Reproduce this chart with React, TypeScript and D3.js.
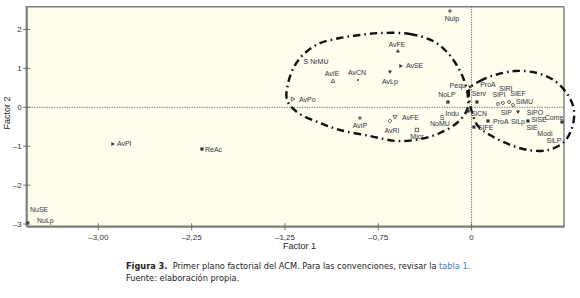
import React from "react";
import * as d3 from "d3";

// ---- Data (Factor 1, Factor 2 coordinates of ACM categories) ----
const categories = [
  "Nulp", "AvFE", "S NrMU", "AvSE", "AvIE", "AvCN", "AvLp", "AvPo", "Pequ", "NoLP",
  "Serv", "ProA", "SiRI", "SiPI", "SIEF", "SiMU", "Indu", "S NoMU", "SiCN", "SIFE",
  "ProA", "SIP", "SiPO", "SiLp", "SiSE", "SIE", "Come", "Modi", "SiLP", "AvFE",
  "AvRI", "Micr", "AvIP", "AvPI", "ReAc", "NuSE", "NuLp",
];
const factor1 = [
  -0.174, -0.592, -1.25, -0.568, -1.114, -0.913, -0.656, -1.436, -0.013, -0.19,
  0.043, 0.132, 0.252, 0.212, 0.301, 0.333, -0.029, -0.254, 0.059, 0.019,
  0.132, 0.373, 0.51, 0.453, 0.542, 0.486, 0.727, 0.59, 0.662, -0.616,
  -0.656, -0.439, -0.897, -2.883, -2.167, -3.566, -3.566,
];
const factor2 = [
  2.476, 1.447, 1.19, 1.062, 0.676, 0.702, 0.907, 0.213, 0.522, 0.136,
  0.136, 0.599, 0.11, 0.085, 0.136, 0.059, -0.095, -0.404, -0.147, -0.507,
  -0.352, -0.121, -0.121, -0.352, -0.301, -0.507, -0.378, -0.661, -0.866, -0.252,
  -0.352, -0.583, -0.275, -0.943, -1.072, -2.974, -2.974,
];
const markerKinds = [
  "plus", "triUp", "none", "triRight", "triUpOpen", "dot", "triDown", "triRightOpen", "triDown", "square",
  "square", "none", "circle", "circle", "circle", "circle", "square", "none", "none", "square",
  "square", "triDown", "none", "square", "none", "none", "square", "none", "none", "triDownOpen",
  "diamondOpen", "squareOpen", "plus", "triRight", "square", "none", "triDown",
];

// Clusters outlined by dash-dot curves (Factor 1, Factor 2)
const cluster1F1 = [-0.736, -0.495, -0.31, -0.206, -0.125, -0.061, -0.029, -0.037, -0.109, -0.254, -0.415, -0.6, -0.817, -1.058, -1.219, -1.404, -1.484, -1.476, -1.428, -1.356, -1.235, -1.058, -0.897];
const cluster1F2 = [1.91, 1.884, 1.704, 1.447, 1.113, 0.702, 0.265, -0.069, -0.378, -0.661, -0.815, -0.866, -0.738, -0.583, -0.403, -0.12, 0.188, 0.599, 1.036, 1.344, 1.627, 1.781, 1.859];
const cluster2F1 = [-0.013, 0.067, 0.188, 0.349, 0.526, 0.67, 0.775, 0.823, 0.807, 0.743, 0.614, 0.453, 0.293, 0.148, 0.051, 0.003, -0.021];
const cluster2F2 = [0.496, 0.676, 0.83, 0.933, 0.882, 0.676, 0.316, -0.069, -0.532, -0.892, -1.098, -1.098, -0.943, -0.712, -0.481, -0.121, 0.239];

// Axis ticks
const xTickValues = [-3, -2.25, -1.5, -0.75, 0];
const xTickLabels = ["\u20133,00", "\u20132,25", "\u20131,25", "\u20130,75", "0"];
const yTickValues = [2, 1, 0, -1, -2, -3];
const yTickLabels = ["2", "1", "0", "\u20131", "\u20132", "\u20133"];

// ---- Layout (label placement relative to marker, px) ----
const labelLayout: [string, number, number][] = [
  ["middle", 2, 8], ["middle", -1, -7], ["middle", 0, 0], ["start", 5, 0], ["middle", -1, -8],
  ["middle", -1, -7], ["middle", 0, 9], ["start", 6, 0], ["end", -4, -1], ["middle", -1, -8],
  ["middle", 2, -9], ["middle", 0, 0], ["middle", 3, -15], ["middle", 1, -9], ["middle", 9, -9],
  ["start", 3, -4], ["end", -9, 2], ["middle", 0, 0], ["middle", 0, 0], ["start", 4, 0],
  ["start", 5, 1], ["end", -6, 0], ["middle", 0, 0], ["end", -3, 1], ["middle", 0, 0],
  ["middle", 0, 0], ["middle", -8, -5], ["middle", 0, 0], ["middle", 0, 0], ["start", 7, 0],
  ["middle", 2, 10], ["middle", 0, 7], ["middle", 0, 7], ["start", 4, 0], ["start", 3, 0],
  ["start", 2, -14], ["start", 9, -3],
];

const W = 580;
const H = 298;
const plot = { left: 26.7, right: 564, top: 6.7, bottom: 226.7 };

const x = d3.scaleLinear().domain([-3.576, 0.743]).range([plot.left, plot.right]);
const y = d3.scaleLinear().domain([-3.069, 2.586]).range([plot.bottom, plot.top]);

const labelFont = "'Liberation Sans', Arial, sans-serif";
const captionFont = "'Liberation Sans Narrow', 'Arial Narrow', 'DejaVu Sans Condensed', 'Liberation Sans', sans-serif";
const ink = "#333";

function Marker({ kind, cx, cy }: { kind: string; cx: number; cy: number }) {
  const s = 2;
  switch (kind) {
    case "plus":
      return <path d={`M${cx - s},${cy}H${cx + s}M${cx},${cy - s}V${cy + s}`} stroke={ink} strokeWidth={0.9} />;
    case "triUp":
      return <path d={`M${cx},${cy - s}L${cx + s},${cy + s * 0.8}L${cx - s},${cy + s * 0.8}Z`} fill={ink} />;
    case "triUpOpen":
      return <path d={`M${cx},${cy - s}L${cx + s},${cy + s * 0.8}L${cx - s},${cy + s * 0.8}Z`} fill="none" stroke={ink} strokeWidth={0.7} />;
    case "triDown":
      return <path d={`M${cx - s},${cy - s * 0.8}L${cx + s},${cy - s * 0.8}L${cx},${cy + s}Z`} fill={ink} />;
    case "triDownOpen":
      return <path d={`M${cx - s},${cy - s * 0.8}L${cx + s},${cy - s * 0.8}L${cx},${cy + s}Z`} fill="none" stroke={ink} strokeWidth={0.7} />;
    case "triRight":
      return <path d={`M${cx - s * 0.8},${cy - s}L${cx + s},${cy}L${cx - s * 0.8},${cy + s}Z`} fill={ink} />;
    case "triRightOpen":
      return <path d={`M${cx - s * 0.8},${cy - s}L${cx + s},${cy}L${cx - s * 0.8},${cy + s}Z`} fill="none" stroke={ink} strokeWidth={0.7} />;
    case "square":
      return <rect x={cx - 1.6} y={cy - 1.6} width={3.2} height={3.2} fill={ink} />;
    case "squareOpen":
      return <rect x={cx - 1.8} y={cy - 1.8} width={3.6} height={3.6} fill="none" stroke={ink} strokeWidth={0.7} />;
    case "diamondOpen":
      return <path d={`M${cx},${cy - s}L${cx + s},${cy}L${cx},${cy + s}L${cx - s},${cy}Z`} fill="none" stroke={ink} strokeWidth={0.7} />;
    case "circle":
      return <circle cx={cx} cy={cy} r={1.5} fill="none" stroke={ink} strokeWidth={0.7} />;
    case "dot":
      return <circle cx={cx} cy={cy} r={1} fill={ink} />;
    default:
      return null;
  }
}

export default function App() {
  const closedLine = d3
    .line<[number, number]>()
    .x((d) => x(d[0]))
    .y((d) => y(d[1]))
    .curve(d3.curveCatmullRomClosed.alpha(0.5));
  const c1 = cluster1F1.map((v, i) => [v, cluster1F2[i]] as [number, number]);
  const c2 = cluster2F1.map((v, i) => [v, cluster2F2[i]] as [number, number]);

  return (
    <svg
      width={W}
      height={H}
      viewBox={`0 0 ${W} ${H}`}
      style={{ position: "absolute", left: 0, top: 0, background: "#fff" }}
    >
      <rect
        x={plot.left}
        y={plot.top}
        width={plot.right - plot.left}
        height={plot.bottom - plot.top}
        fill="#fffdee"
      />
      <line x1={plot.left} x2={plot.right} y1={y(0)} y2={y(0)} stroke="#555" strokeWidth={0.9} strokeDasharray="1.2,1.3" />
      <line x1={x(0)} x2={x(0)} y1={plot.top} y2={plot.bottom} stroke="#555" strokeWidth={0.9} strokeDasharray="1.2,1.3" />

      <line x1={plot.left} x2={plot.right} y1={plot.top} y2={plot.top} stroke="#7d7d7d" strokeWidth={1.4} />
      <line x1={plot.right} x2={plot.right} y1={plot.top} y2={plot.bottom} stroke="#7d7d7d" strokeWidth={1.4} />
      <line x1={plot.left} x2={plot.right + 0.7} y1={plot.bottom} y2={plot.bottom} stroke="#7d7d7d" strokeWidth={2.2} />
      <line x1={plot.left} x2={plot.left} y1={plot.top - 0.7} y2={plot.bottom} stroke="#7d7d7d" strokeWidth={2.2} />

      {yTickValues.map((v, i) => (
        <g key={"yt" + i}>
          <line x1={plot.left - 3.5} x2={plot.left + 3.5} y1={y(v)} y2={y(v)} stroke="#555" strokeWidth={0.8} />
          <text x={plot.left - 5} y={y(v) + 3} textAnchor="end" fontFamily={labelFont} fontSize={8} fill={ink}>
            {yTickLabels[i]}
          </text>
        </g>
      ))}
      {xTickValues.map((v, i) => (
        <g key={"xt" + i}>
          <line x1={x(v)} x2={x(v)} y1={plot.bottom - 3.5} y2={plot.bottom + 3.5} stroke="#555" strokeWidth={0.8} />
          <text x={x(v)} y={plot.bottom + 13} textAnchor="middle" fontFamily={labelFont} fontSize={8} fill={ink}>
            {xTickLabels[i]}
          </text>
        </g>
      ))}

      <text x={299.5} y={249} textAnchor="middle" fontFamily={labelFont} fontSize={9} fill="#222">
        Factor 1
      </text>
      <text
        transform="translate(9.5,113) rotate(-90)"
        textAnchor="middle"
        fontFamily={labelFont}
        fontSize={9}
        fill="#222"
      >
        Factor 2
      </text>

      <path d={closedLine(c1) || ""} fill="none" stroke="#111" strokeWidth={2.4} strokeDasharray="7.5,4,1.6,4" />
      <path d={closedLine(c2) || ""} fill="none" stroke="#111" strokeWidth={2.4} strokeDasharray="7.5,4,1.6,4" />

      {categories.map((name, i) => {
        const cx = x(factor1[i]);
        const cy = y(factor2[i]);
        const [anchor, dx, dy] = labelLayout[i];
        const lines = name === "S NoMU" ? ["S", "NoMU"] : [name];
        return (
          <g key={"p" + i}>
            <Marker kind={markerKinds[i]} cx={cx} cy={cy} />
            {lines.map((ln, k) => (
              <text
                key={k}
                x={cx + dx + (lines.length > 1 && k === 0 ? 2 : 0)}
                y={cy + dy + 2.5 + (lines.length > 1 ? (k - 1) * 6 : 0)}
                textAnchor={anchor as any}
                fontFamily={labelFont}
                fontSize={7}
                fill="#2f3340"
              >
                {ln}
              </text>
            ))}
          </g>
        );
      })}

      <text x={126} y={269} fontFamily={captionFont} fontSize={9.15} fill="#222">
        <tspan fontWeight="bold">Figura 3.</tspan>
        <tspan>{"\u00a0 Primer plano factorial del ACM. Para las convenciones, revisar la "}</tspan>
        <tspan fill="#3b7fc0">tabla 1</tspan>
        <tspan>.</tspan>
      </text>
      <text x={126} y={281} fontFamily={captionFont} fontSize={9.2} fill="#222">
        Fuente: elaboración propia.
      </text>
    </svg>
  );
}
